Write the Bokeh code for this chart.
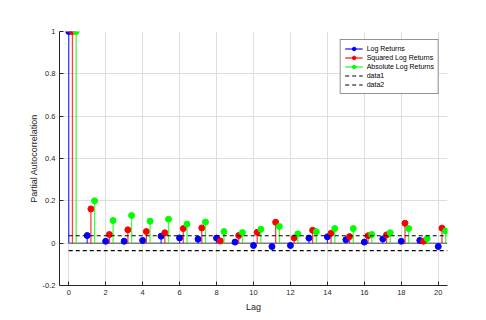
from bokeh.plotting import figure
from bokeh.models import ColumnDataSource, Range1d, FixedTicker, Legend, LegendItem
from bokeh.transform import dodge
from bokeh.embed import file_html
from bokeh.resources import INLINE

lags = list(range(21))
log_returns = [1.0, 0.036, 0.009, 0.009, 0.013, 0.033, 0.025, 0.019, 0.024, 0.005, -0.011,
               -0.016, -0.011, 0.024, 0.030, 0.016, 0.005, 0.020, 0.009, 0.013, -0.016]
sq_log_returns = [1.0, 0.162, 0.041, 0.063, 0.055, 0.049, 0.069, 0.072, 0.011, 0.036, 0.051,
                  0.099, 0.025, 0.061, 0.047, 0.031, 0.035, 0.039, 0.094, 0.009, 0.071]
abs_log_returns = [1.0, 0.200, 0.107, 0.131, 0.104, 0.113, 0.090, 0.100, 0.055, 0.050, 0.066,
                   0.079, 0.044, 0.054, 0.069, 0.069, 0.041, 0.049, 0.069, 0.022, 0.057]
conf_upper = [0.035, 0.035]
conf_lower = [-0.035, -0.035]
conf_x = [0, 20.5]
x_ticks = list(range(0, 21, 2))
y_ticks = [-0.2, 0, 0.2, 0.4, 0.6, 0.8, 1.0]
y_tick_labels = ["-0.2", "0", "0.2", "0.4", "0.6", "0.8", "1"]

FONT = "Liberation Sans"
TXT = "#262626"

src = ColumnDataSource(dict(lag=lags, blue=log_returns, red=sq_log_returns, green=abs_log_returns))

p = figure(width=480, height=314, output_backend="svg", toolbar_location=None,
           x_range=Range1d(-0.5, 20.5), y_range=Range1d(-0.2, 1.0),
           min_border_left=59, min_border_right=33, min_border_top=31, min_border_bottom=29)
p.outline_line_color = None
p.background_fill_color = "white"

for ax in (p.xaxis[0], p.yaxis[0]):
    ax.major_tick_in = 4
    ax.major_tick_out = 0
    ax.minor_tick_in = 0
    ax.minor_tick_out = 0
    ax.axis_line_color = TXT
    ax.major_tick_line_color = TXT
    ax.major_label_text_font = FONT
    ax.major_label_text_font_size = "7.5px"
    ax.major_label_text_color = TXT
    ax.axis_label_text_font = FONT
    ax.axis_label_text_font_size = "9px"
    ax.axis_label_text_font_style = "normal"
    ax.axis_label_text_color = TXT

p.xaxis.ticker = FixedTicker(ticks=x_ticks)
p.yaxis.ticker = FixedTicker(ticks=y_ticks)
p.yaxis.major_label_overrides = {t: l for t, l in zip(y_ticks, y_tick_labels)}
p.xaxis.axis_label = "Lag"
p.yaxis.axis_label = "Partial Autocorrelation"
p.xaxis.major_label_standoff = 4
p.xaxis.axis_label_standoff = 4
p.yaxis.major_label_standoff = 4
p.yaxis.axis_label_standoff = 1

p.xgrid.grid_line_color = "#dedede"
p.ygrid.grid_line_color = "#dedede"
p.xgrid.grid_line_width = 1
p.ygrid.grid_line_width = 1

# baseline
p.line(x=[0, 20.5], y=[0, 0], line_color="#808080", line_width=1.5)

items = []
specs = [("blue", 0.0, "#0000ff", "Log Returns"),
         ("red", 0.2, "#ff0000", "Squared Log Returns"),
         ("green", 0.4, "#00ff00", "Absolute Log Returns")]
for col, off, color, label in specs:
    xs = dodge("lag", off, range=p.x_range)
    seg = p.segment(x0=xs, y0=0, x1=xs, y1=col, source=src, line_color=color,
                    line_width=1.3, line_alpha=0.75)
    sc = p.scatter(x=xs, y=col, source=src, size=6, fill_color=color, line_color=color)
    items.append(LegendItem(label=label, renderers=[seg, sc]))

d1 = p.line(x=conf_x, y=conf_upper, line_color="black", line_dash="4 3", line_width=1.2)
d2 = p.line(x=conf_x, y=conf_lower, line_color="black", line_dash="4 3", line_width=1.2)
items.append(LegendItem(label="data1", renderers=[d1]))
items.append(LegendItem(label="data2", renderers=[d2]))

legend = Legend(items=items, location="top_right")
legend.margin = 8
legend.padding = 4
legend.spacing = 0
legend.label_text_font = FONT
legend.label_text_font_size = "7px"
legend.label_text_color = "black"
legend.label_height = 9
legend.glyph_height = 9
legend.glyph_width = 18
legend.label_standoff = 4
legend.border_line_color = "#262626"
legend.border_line_width = 1
legend.background_fill_alpha = 1.0
p.add_layout(legend)

open("out.html", "w").write(file_html(p, INLINE))
